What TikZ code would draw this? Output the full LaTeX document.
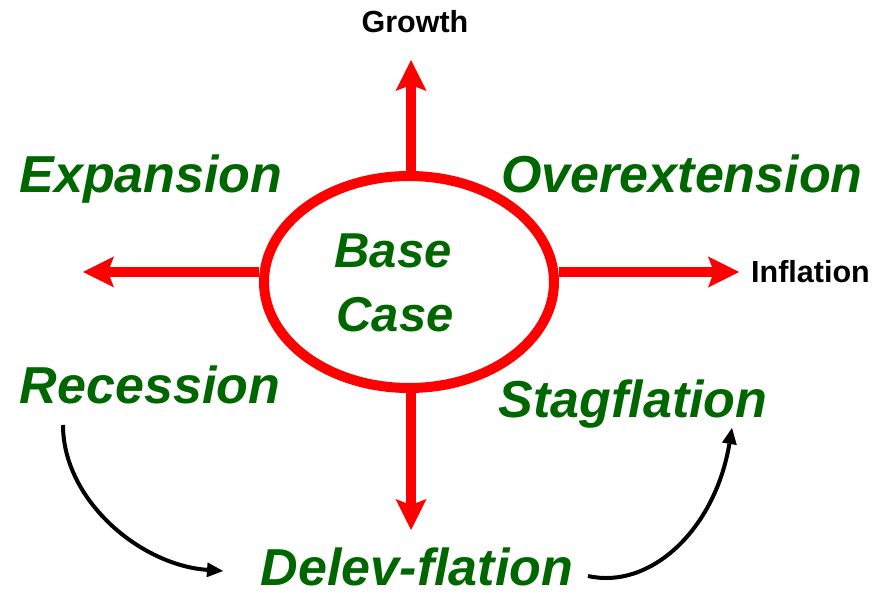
\documentclass[tikz,border=0pt]{standalone}
\usepackage{fontspec}
\setmainfont{Liberation Sans}
\usetikzlibrary{arrows.meta,shapes.geometric}
\definecolor{scengreen}{RGB}{0,102,0}
\begin{document}
\begin{tikzpicture}[x=1pt,y=-1pt,
  scen/.style={font=\fontsize{52}{52}\selectfont\bfseries\itshape, text=scengreen, inner sep=0pt, anchor=base},
  centre/.style={scen, font=\fontsize{49}{49}\selectfont\bfseries\itshape},
  axislabel/.style={font=\fontsize{30.5}{30.5}\selectfont\bfseries, inner sep=0pt},
  axis/.style={red, line width=10pt, -{Stealth[length=31pt,width=31pt,inset=6pt,line width=0pt]}},
  drift/.style={black, line width=4pt, -{Triangle[length=16pt,width=15pt,line width=0pt]}}]
\useasboundingbox (0,0) rectangle (879,593);

% central scenario
\node[draw=red, line width=10pt, ellipse, minimum width=290pt, minimum height=212pt, inner sep=0pt] (basecase) at (409,282) {};
\node[centre] (base) at (393,268) {Base};
\node[centre] (case) at (395,332) {Case};

% axes
\coordinate (growthtip) at (411,60);
\coordinate (southtip) at (411,530);
\coordinate (westtip) at (83,272);
\coordinate (inflationtip) at (739,272);
\draw[axis] (basecase.north -| growthtip) -- (growthtip);
\draw[axis] (basecase.south -| southtip) -- (southtip);
\draw[axis] (basecase.west |- westtip) -- (westtip);
\draw[axis] (basecase.east |- inflationtip) -- (inflationtip);

\node[axislabel, anchor=base] (growth) at (415,33) {Growth};
\node[axislabel, anchor=base west] (inflation) at (751,283) {Inflation};

% scenarios
\node[scen] (expansion) at (151,193) {Expansion};
\node[scen] (overext) at (682,193) {Overextension};
\node[scen] (recession) at (150,404) {Recession};
\node[scen] (stag) at (633,418) {Stagflation};
\node[scen] (delev) at (417,586) {Delev-flation};

% transitions
\coordinate (recout) at (63,425);
\coordinate (delevin) at (223,571);
\coordinate (delevout) at (588,576);
\coordinate (stagin) at (732,428);
\draw[drift] (recout) .. controls (63,500) and (140,565) .. (delevin);
\draw[drift] (delevout) .. controls (650,590) and (715,530) .. (stagin);
\end{tikzpicture}
\end{document}
